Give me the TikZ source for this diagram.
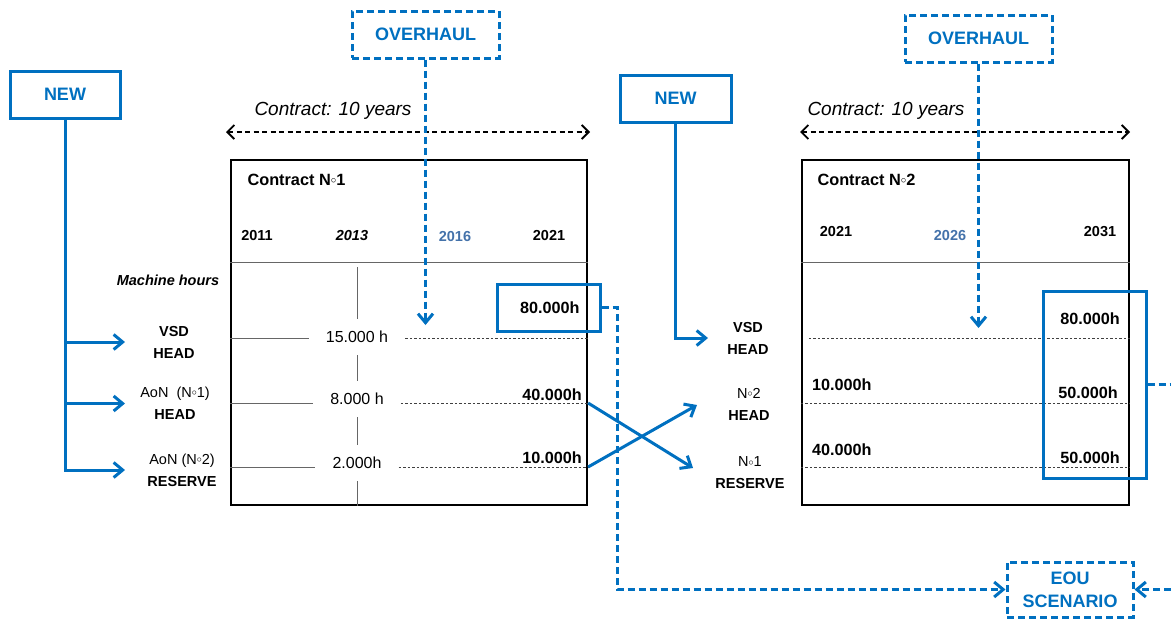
\documentclass[tikz,border=0pt]{standalone}
\usepackage{fontspec}
\setmainfont{Liberation Sans}
\usetikzlibrary{arrows.meta}
\definecolor{ofblue}{RGB}{0,112,192}
\definecolor{yrblue}{RGB}{68,114,170}
\newcommand{\Nr}{N\raisebox{0.25ex}{$\scriptstyle\circ$}}

\begin{document}
\begin{tikzpicture}[
  x=1pt,y=-1pt,
  >={Straight Barb[length=9pt,width=15pt]},
  lbl/.style={font=\fontsize{14.5}{22}\selectfont,align=center,inner sep=1pt},
  blbl/.style={lbl,font=\fontsize{14.5}{22}\selectfont\bfseries},
  val/.style={font=\fontsize{16.2}{18}\selectfont\bfseries,inner sep=1pt},
  yr/.style={font=\fontsize{14.5}{17}\selectfont\bfseries,inner sep=1pt},
  hrs/.style={font=\fontsize{16}{18}\selectfont,minimum height=36pt,inner xsep=17pt},
  newbox/.style={draw=ofblue,line width=3pt,text=ofblue,
    font=\fontsize{18}{23}\selectfont\bfseries,minimum width=110pt,minimum height=47pt},
  ovbox/.style={newbox,dash pattern=on 7pt off 4pt,minimum width=147pt},
  contract/.style={draw,line width=2.2pt,minimum width=356pt,minimum height=345pt},
  hlbox/.style={draw=ofblue,line width=3pt,minimum width=103pt},
  bline/.style={ofblue,line width=3pt},
  bdash/.style={bline,dash pattern=on 7pt off 4pt},
  span/.style={{Straight Barb[length=7pt,width=14pt]}-{Straight Barb[length=7pt,width=14pt]},
    line width=1.8pt,dash pattern=on 5pt off 3.5pt},
  sep/.style={black!60,line width=1pt},
  dots/.style={black!75,line width=0.8pt,dash pattern=on 2.5pt off 2pt}
]
\useasboundingbox (0,0) rectangle (1171,619);

% contract frames
\node[contract] (c1) at (409,332.5) {};
\node[contract,minimum width=327pt] (c2) at (965.5,332.5) {};
\coordinate (hdr) at (0,262);
\draw[sep] (c1.west |- hdr) -- (c1.east |- hdr);
\draw[sep] (c2.west |- hdr) -- (c2.east |- hdr);

\node[anchor=west,font=\fontsize{16.3}{18}\selectfont\bfseries] (t1) at (244,180) {Contract \Nr1};
\node[anchor=west,font=\fontsize{16.3}{18}\selectfont\bfseries] (t2) at (814,180) {Contract \Nr2};

\node[yr] (y11) at (257,236) {2011};
\node[yr,font=\fontsize{14.5}{17}\selectfont\bfseries\itshape] (y13) at (352,236) {2013};
\node[yr,text=yrblue] (y16) at (455,237) {2016};
\node[yr] (y21) at (549,236) {2021};
\node[yr] (z21) at (836,232) {2021};
\node[yr,text=yrblue] (z26) at (950,236) {2026};
\node[yr] (z31) at (1100,232) {2031};

\node[yr,font=\fontsize{14.5}{17}\selectfont\bfseries\itshape] (mh) at (168,280) {Machine hours};

% rows of contract 1
\coordinate (r1) at (0,338);
\coordinate (r2) at (0,403);
\coordinate (r3) at (0,467);
\node[hrs] (h15) at (357,337) {15.000 h};
\node[hrs] (h8) at (357,399) {8.000 h};
\node[hrs] (h2) at (357,463) {2.000h};
\foreach \h/\r in {h15/r1,h8/r2,h2/r3}{
  \draw[sep] (c1.west |- \r) -- (\h.west |- \r);
  \draw[dots] (\h.east |- \r) -- (c1.east |- \r);
}
\coordinate (vtop) at (357,267);
\draw[sep] (vtop) -- (h15.north);
\draw[sep] (h15.south) -- (h8.north);
\draw[sep] (h8.south) -- (h2.north);
\draw[sep] (h2.south) -- (h2.south |- c1.south);

\node[hlbox,val,minimum height=47pt] (b80) at (548.5,307.5) {\,80.000h};
\node[val,anchor=east] (v40) at (583,395) {40.000h};
\node[val,anchor=east] (v10) at (583,458) {10.000h};

% rows of contract 2
\draw[dots] ([xshift=8pt]c2.west |- r1) -- (c2.east |- r1);
\draw[dots] (c2.west |- r2) -- (c2.east |- r2);
\draw[dots] (c2.west |- r3) -- (c2.east |- r3);
\node[val,anchor=west] (w10) at (811,385) {10.000h};
\node[val,anchor=west] (w40) at (811,450) {40.000h};
\node[val,anchor=east] (w80) at (1121,319) {80.000h};
\node[val,anchor=east] (w50a) at (1119,393) {50.000h};
\node[val,anchor=east] (w50b) at (1121,458) {50.000h};
\node[hlbox,minimum height=187pt] (b50) at (1094.5,384.5) {};

% engine labels
\node[blbl] (vsd1) at (174,342) {VSD\\HEAD};
\node[lbl] (aon1) at (175,403.5) {AoN\ \ (\Nr1)\\\textbf{HEAD}};
\node[lbl] (aon2) at (182,470) {AoN (\Nr2)\\\textbf{RESERVE}};
\node[blbl] (vsd2) at (748,338) {VSD\\HEAD};
\node[lbl] (n2) at (749,404.5) {\Nr2\\\textbf{HEAD}};
\node[lbl] (n1) at (750,473) {\Nr1\\\textbf{RESERVE}};

% boxes
\node[newbox] (new1) at (65,94.5) {NEW};
\node[newbox,minimum width=111pt] (new2) at (675.5,98.5) {NEW};
\node[ovbox] (ov1) at (425.5,34.5) {OVERHAUL};
\node[ovbox] (ov2) at (978.5,38.5) {OVERHAUL};
\node[newbox,dash pattern=on 7pt off 4pt,minimum width=126pt,minimum height=55pt,
  align=center] (eou) at (1070,589.5) {EOU\\SCENARIO};

% contract spans
\coordinate (s1a) at (226,132);
\coordinate (s1b) at (590,132);
\coordinate (s2a) at (800,132);
\coordinate (s2b) at (1130,132);
\draw[span] (s1a) -- (s1b);
\draw[span] (s2a) -- (s2b);
\node[font=\fontsize{19}{22}\selectfont\itshape] (k1) at (333,111) {Contract: 10 years};
\node[font=\fontsize{19}{22}\selectfont\itshape] (k2) at (886,111) {Contract: 10 years};

% new engines
\coordinate (tip1) at (125,0);
\coordinate (tip2) at (708,0);
\draw[bline,->] (new1.south) |- (aon2 -| tip1);
\draw[bline,->] (new1.south |- vsd1) -- (vsd1 -| tip1);
\draw[bline,->] (new1.south |- aon1) -- (aon1 -| tip1);
\draw[bline,->] (new2.south) |- (vsd2 -| tip2);

% overhauls
\coordinate (oh1) at (0,325);
\coordinate (oh2) at (0,328);
\draw[bdash,->] (ov1.south) -- (ov1.south |- oh1);
\draw[bdash,->] (ov2.south) -- (ov2.south |- oh2);

% swap of the AoN engines
\coordinate (x1) at (693,468);
\coordinate (x2) at (697,405);
\draw[bline,->] (c1.east |- r2) -- (x1);
\draw[bline,->] (c1.east |- r3) -- (x2);

% EOU scenario
\coordinate (eouv) at (617,0);
\coordinate (rim) at (1171,0);
\draw[bdash,->] (b80.east) -- (b80.east -| eouv) |- (eou.west);
\draw[bdash,->] (eou.east -| rim) -- (eou.east);
\draw[bdash] (b50.east) -- (b50.east -| rim);
\end{tikzpicture}
\end{document}
